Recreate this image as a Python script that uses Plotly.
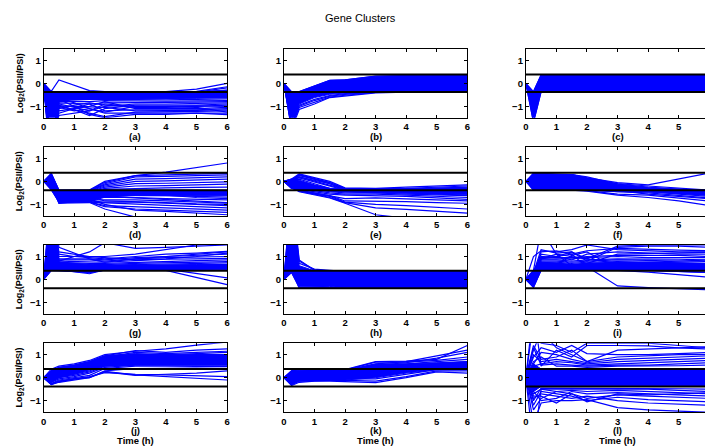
import plotly.graph_objects as go

# Canvas size in pixels
W, H = 708, 446

# Sampling times (hours) shared by all gene profiles
TIME_H = [0, 0.25, 0.5, 1, 1.5, 2, 3, 4, 5, 6]

# Fold-change cut-off drawn as the two black guide lines
THRESHOLD = 0.38

PANEL_LABELS = ["(a)", "(b)", "(c)", "(d)", "(e)", "(f)",
                "(g)", "(h)", "(i)", "(j)", "(k)", "(l)"]
X_TICKS = [0, 1, 2, 3, 4, 5, 6]
Y_TICKS = [-1, 0, 1]
Y_TICK_TEXT = ["\u22121", "0", "1"]

# ---- Cluster (a) ----
CLUSTER_A = [
    [0, -0.35, 0.15, -0.1, -0.32, -0.36, -0.38, -0.36, -0.25, 0.0],
    [0, -3.0, -0.45, -0.42, -0.40, -0.40, -0.42, -0.42, -0.35, -0.15],
    [0, -3.5, -0.5, -0.48, -0.45, -0.45, -0.45, -0.45, -0.40, -0.30],
    [0, -3.0, -0.55, -0.52, -0.5, -0.5, -0.5, -0.5, -0.45, -0.40],
    [0, -4.0, -0.6, -0.58, -0.55, -0.55, -0.55, -0.55, -0.5, -0.48],
    [0, -3.2, -0.65, -0.62, -0.6, -0.6, -0.6, -0.6, -0.58, -0.55],
    [0, -3.6, -0.7, -0.68, -0.65, -0.65, -0.65, -0.65, -0.62, -0.62],
    [0, -3.0, -0.75, -0.72, -0.7, -0.7, -0.72, -0.72, -0.7, -0.68],
    [0, -2.8, -0.8, -0.8, -0.8, -0.75, -0.78, -0.78, -0.76, -0.75],
    [0, -3.4, -0.85, -0.88, -0.9, -0.85, -0.85, -0.85, -0.82, -0.8],
    [0, -3.0, -0.9, -1.05, -1.2, -1.0, -0.9, -0.9, -0.88, -0.85],
    [0, -2.6, -0.95, -1.15, -1.4, -1.1, -0.95, -0.95, -0.95, -0.9],
    [0, -3.2, -1.1, -0.95, -0.85, -0.95, -1.05, -1.05, -1.0, -0.95],
    [0, -2.8, -1.2, -1.1, -1.0, -0.8, -1.1, -1.1, -1.1, -1.05],
    [0, -3.0, -1.3, -1.1, -0.9, -1.2, -1.15, -1.15, -1.15, -1.1],
    [0, -2.5, -1.0, -1.15, -1.3, -1.45, -1.25, -1.25, -1.22, -1.2],
    [0, -3.8, -0.6, -0.85, -1.1, -1.3, -1.3, -1.3, -1.28, -1.3],
    [0, -2.4, -1.4, -1.3, -1.2, -0.9, -1.0, -1.0, -0.98, -1.0],
    [0, -3.0, -0.7, -1.0, -1.35, -1.5, -1.35, -1.35, -1.3, -1.36],
    [0, -0.4, -0.4, -0.4, -0.4, -0.4, -0.4, -0.4, -0.38, -0.2],
    [0, -2.9, -0.98, -1.0, -1.05, -1.05, -1.2, -1.2, -1.18, -1.15],
    [0, -3.3, -1.05, -1.2, -1.1, -1.25, -1.0, -1.02, -1.05, -1.25],
]
CORE_A_LO = [0, -3.0, -0.72, -0.7, -0.7, -0.68, -0.68, -0.68, -0.65, -0.62]
CORE_A_HI = [0, -0.35, -0.38, -0.38, -0.38, -0.38, -0.38, -0.38, -0.36, -0.3]

# ---- Cluster (b) ----
CLUSTER_B = [
    [0, -2.0, -1.14, -0.9, -0.62, -0.55, -0.42, -0.38, -0.34, -0.3],
    [0, -1.9, -1.05, -0.82, -0.6, -0.52, -0.4, -0.36, -0.32, -0.3],
    [0, -1.8, -1.0, -0.75, -0.56, -0.48, -0.38, -0.34, -0.31, -0.29],
    [0, -1.6, -0.95, -0.7, -0.53, -0.45, -0.37, -0.33, -0.3, -0.28],
    [0, -0.36, -0.36, -0.1, 0.13, 0.15, 0.31, 0.34, 0.36, 0.38],
    [0, -0.8, -0.5, -0.3, -0.1, -0.05, 0.1, 0.15, 0.2, 0.22],
]
CORE_B_LO = [0, -2.0, -0.9, -0.62, -0.48, -0.42, -0.36, -0.33, -0.3, -0.28]
CORE_B_HI = [0, -0.36, -0.36, -0.1, 0.13, 0.15, 0.31, 0.34, 0.36, 0.38]

# ---- Cluster (c) ----
CLUSTER_C = [
    [0, -0.36, 0.37, 0.35, 0.33, 0.32, 0.3, 0.3, 0.3, 0.3],
    [0, -1.7, -0.37, -0.35, -0.35, -0.34, -0.34, -0.33, -0.33, -0.33],
    [0, -0.8, 0.1, 0.15, 0.2, 0.2, 0.15, 0.15, 0.1, 0.1],
    [0, -1.2, -0.2, -0.1, 0.0, 0.05, 0.0, -0.05, -0.1, -0.1],
]
CORE_C_LO = [0, -1.7, -0.37, -0.37, -0.37, -0.37, -0.37, -0.37, -0.37, -0.37]
CORE_C_HI = [0, -0.36, 0.37, 0.37, 0.37, 0.37, 0.37, 0.37, 0.37, 0.37]

# ---- Cluster (d) ----
CLUSTER_D = [
    [0, 0.35, -0.38, -0.38, -0.38, 0.0, 0.25, 0.4, 0.6, 0.8],
    [0, 0.3, -0.4, -0.39, -0.38, -0.05, 0.25, 0.28, 0.3, 0.35],
    [0, 0.2, -0.45, -0.42, -0.4, -0.1, 0.2, 0.22, 0.25, 0.28],
    [0, 0.1, -0.5, -0.45, -0.4, -0.15, 0.1, 0.12, 0.15, 0.2],
    [0, 0.0, -0.55, -0.48, -0.42, -0.2, 0.0, 0.02, 0.05, 0.1],
    [0, -0.1, -0.6, -0.52, -0.45, -0.25, -0.1, -0.08, -0.05, -0.02],
    [0, -0.2, -0.65, -0.58, -0.5, -0.3, -0.2, -0.18, -0.15, -0.12],
    [0, -0.3, -0.7, -0.62, -0.55, -0.35, -0.3, -0.28, -0.26, -0.25],
    [0, 0.25, -0.75, -0.68, -0.6, -0.45, -0.4, -0.4, -0.4, -0.4],
    [0, 0.15, -0.8, -0.72, -0.65, -0.5, -0.5, -0.52, -0.55, -0.55],
    [0, 0.05, -0.85, -0.78, -0.7, -0.6, -0.6, -0.62, -0.65, -0.68],
    [0, -0.05, -0.9, -0.82, -0.75, -0.7, -0.7, -0.75, -0.78, -0.8],
    [0, -0.15, -0.95, -0.88, -0.8, -0.8, -0.8, -0.85, -0.9, -0.95],
    [0, -0.25, -0.9, -0.88, -0.85, -0.9, -0.9, -0.95, -1.0, -1.05],
    [0, -0.35, -0.85, -0.88, -0.9, -0.95, -1.0, -1.05, -1.1, -1.15],
    [0, 0.3, -0.8, -0.85, -0.9, -1.05, -1.1, -1.15, -1.2, -1.25],
    [0, 0.2, -0.9, -0.9, -0.9, -1.1, -1.2, -1.25, -1.3, -1.35],
    [0, 0.1, -0.95, -0.94, -0.92, -1.2, -1.55, -1.6, -1.6, -1.6],
    [0, 0.0, -0.7, -0.75, -0.8, -1.0, -1.25, -1.3, -1.38, -1.45],
    [0, -0.1, -0.5, -0.55, -0.6, -0.55, -0.55, -0.6, -0.7, -0.75],
    [0, 0.05, -0.6, -0.62, -0.65, -0.85, -0.88, -0.92, -0.98, -1.0],
    [0, -0.05, -0.75, -0.78, -0.8, -0.65, -0.72, -0.8, -0.88, -0.92],
]
CORE_D_LO = [0, -0.38, -0.92, -0.9, -0.9, -0.68, -0.62, -0.62, -0.62, -0.62]
CORE_D_HI = [0, 0.35, -0.38, -0.38, -0.38, -0.38, -0.38, -0.38, -0.38, -0.38]

# ---- Cluster (e) ----
CLUSTER_E = [
    [0, 0.1, 0.33, 0.15, 0.0, -0.28, -0.3, -0.25, -0.2, -0.15],
    [0, 0.05, 0.3, 0.12, -0.05, -0.3, -0.32, -0.3, -0.25, -0.2],
    [0, 0.0, 0.28, 0.1, -0.1, -0.32, -0.35, -0.33, -0.3, -0.25],
    [0, -0.05, 0.2, 0.02, -0.15, -0.35, -0.38, -0.36, -0.33, -0.3],
    [0, 0.1, 0.15, -0.02, -0.2, -0.38, -0.4, -0.4, -0.38, -0.35],
    [0, 0.05, 0.1, -0.1, -0.3, -0.4, -0.42, -0.42, -0.42, -0.42],
    [0, 0.0, 0.0, -0.18, -0.35, -0.42, -0.45, -0.45, -0.45, -0.48],
    [0, -0.1, -0.1, -0.25, -0.4, -0.45, -0.48, -0.5, -0.52, -0.55],
    [0, -0.2, -0.2, -0.32, -0.45, -0.5, -0.5, -0.55, -0.6, -0.62],
    [0, -0.3, -0.3, -0.4, -0.5, -0.55, -0.55, -0.6, -0.65, -0.7],
    [0, -0.15, -0.35, -0.45, -0.55, -0.6, -0.62, -0.65, -0.72, -0.78],
    [0, -0.25, -0.38, -0.5, -0.6, -0.75, -0.72, -0.75, -0.8, -0.85],
    [0, -0.3, -0.4, -0.5, -0.62, -0.85, -0.85, -0.88, -0.92, -0.95],
    [0, -0.2, -0.42, -0.55, -0.65, -0.9, -1.0, -1.05, -1.12, -1.2],
    [0, -0.3, -0.4, -0.55, -0.7, -0.92, -1.15, -1.22, -1.3, -1.38],
    [0, -0.25, -0.45, -0.6, -0.72, -0.95, -1.45, -1.6, -1.6, -1.6],
    [0, 0.05, 0.25, 0.1, -0.05, -0.35, -0.4, -0.42, -0.45, -0.5],
    [0, 0.0, 0.2, 0.05, -0.1, -0.38, -0.45, -0.5, -0.55, -0.6],
]
CORE_E_LO = [0, -0.3, -0.35, -0.4, -0.45, -0.45, -0.5, -0.5, -0.52, -0.55]
CORE_E_HI = [0, 0.1, 0.05, -0.15, -0.3, -0.32, -0.33, -0.32, -0.3, -0.28]

# ---- Cluster (f) ----
CLUSTER_F = [
    [0, 0.35, 0.3, 0.3, 0.3, 0.15, -0.05, -0.15, 0.1, 0.36],
    [0, 0.3, 0.3, 0.29, 0.28, 0.12, -0.1, -0.2, -0.3, -0.38],
    [0, 0.25, 0.25, 0.25, 0.25, 0.1, -0.15, -0.28, -0.35, -0.4],
    [0, 0.2, 0.2, 0.2, 0.2, 0.05, -0.2, -0.3, -0.4, -0.45],
    [0, 0.1, 0.15, 0.12, 0.1, 0.0, -0.25, -0.35, -0.42, -0.5],
    [0, 0.0, 0.1, 0.05, 0.0, -0.1, -0.3, -0.38, -0.45, -0.55],
    [0, -0.1, 0.0, -0.05, -0.1, -0.15, -0.35, -0.42, -0.5, -0.6],
    [0, -0.2, -0.1, -0.15, -0.2, -0.25, -0.4, -0.45, -0.55, -0.65],
    [0, -0.3, -0.2, -0.25, -0.3, -0.35, -0.45, -0.5, -0.6, -0.72],
    [0, -0.35, -0.3, -0.32, -0.35, -0.4, -0.55, -0.6, -0.72, -0.85],
    [0, -0.38, -0.35, -0.36, -0.38, -0.42, -0.6, -0.7, -0.85, -1.05],
    [0, 0.15, 0.25, 0.22, 0.2, 0.1, -0.35, -0.45, -0.52, -0.6],
    [0, 0.3, 0.35, 0.32, 0.3, 0.2, -0.12, -0.25, -0.35, -0.42],
    [0, -0.25, 0.05, 0.1, 0.15, 0.05, -0.4, -0.55, -0.65, -0.75],
]
CORE_F_LO = [0, -0.38, -0.37, -0.37, -0.37, -0.38, -0.45, -0.45, -0.5, -0.6]
CORE_F_HI = [0, 0.37, 0.35, 0.3, 0.3, 0.15, -0.15, -0.3, -0.38, -0.38]

# ---- Cluster (g) ----
CLUSTER_G = [
    [0, 4.0, 0.8, 1.0, 1.2, 1.6, 1.35, 1.4, 1.45, 1.5],
    [0, 3.5, 1.0, 1.0, 1.0, 1.0, 1.1, 1.3, 1.5, 1.6],
    [0, 3.0, 1.1, 1.0, 0.95, 0.9, 1.0, 1.1, 1.15, 1.22],
    [0, 2.5, 0.9, 0.9, 0.9, 0.85, 0.95, 1.0, 1.05, 1.1],
    [0, 2.2, 0.85, 0.85, 0.85, 0.8, 0.9, 0.95, 0.98, 1.0],
    [0, 1.9, 0.8, 0.78, 0.75, 0.75, 0.82, 0.88, 0.9, 0.92],
    [0, 1.6, 0.75, 0.72, 0.7, 0.7, 0.75, 0.8, 0.82, 0.85],
    [0, 1.4, 0.7, 0.68, 0.65, 0.65, 0.7, 0.72, 0.75, 0.78],
    [0, 1.2, 0.65, 0.62, 0.6, 0.62, 0.65, 0.67, 0.7, 0.72],
    [0, 1.0, 0.6, 0.58, 0.55, 0.58, 0.6, 0.62, 0.64, 0.65],
    [0, 0.8, 0.55, 0.52, 0.5, 0.55, 0.55, 0.57, 0.58, 0.6],
    [0, 0.7, 0.5, 0.45, 0.4, 0.5, 0.5, 0.52, 0.53, 0.55],
    [0, 0.6, 0.45, 0.38, 0.3, 0.45, 0.48, 0.48, 0.5, 0.5],
    [0, 0.5, 0.42, 0.33, 0.25, 0.42, 0.45, 0.45, 0.45, 0.45],
    [0, 0.9, 0.6, 0.55, 0.5, 0.55, 0.6, 0.45, 0.25, 0.07],
    [0, 1.1, 0.7, 0.62, 0.55, 0.6, 0.65, 0.4, 0.1, -0.22],
    [0, 3.0, 1.2, 1.1, 1.0, 0.95, 0.85, 0.9, 1.0, 1.15],
    [0, 3.8, 1.4, 1.15, 0.9, 0.75, 0.9, 1.0, 1.1, 1.2],
    [0, 0.4, 0.4, 0.35, 0.3, 0.42, 0.42, 0.43, 0.45, 0.48],
]
CORE_G_LO = [0, 0.38, 0.38, 0.35, 0.3, 0.4, 0.4, 0.42, 0.45, 0.45]
CORE_G_HI = [0, 3.0, 0.75, 0.7, 0.62, 0.6, 0.62, 0.65, 0.65, 0.65]

# ---- Cluster (h) ----
CLUSTER_H = [
    [0, 4.0, 0.85, 0.4, 0.37, 0.37, 0.37, 0.37, 0.37, 0.37],
    [0, 3.5, 0.8, 0.42, 0.38, 0.36, 0.36, 0.36, 0.36, 0.36],
    [0, 3.0, 0.7, 0.45, 0.4, 0.35, 0.35, 0.35, 0.35, 0.35],
    [0, 0.3, -0.35, -0.35, -0.34, -0.38, -0.37, -0.37, -0.36, -0.36],
    [0, 0.5, -0.38, -0.38, -0.36, -0.3, -0.35, -0.35, -0.35, -0.35],
]
CORE_H_LO = [0, 0.3, -0.32, -0.3, -0.3, -0.36, -0.37, -0.37, -0.37, -0.37]
CORE_H_HI = [0, 4.0, 0.6, 0.38, 0.37, 0.37, 0.37, 0.37, 0.37, 0.37]

# ---- Cluster (i) ----
CLUSTER_I = [
    [0, 0.4, 2.2, 1.1, 1.0, 0.9, 1.45, 1.5, 1.5, 1.5],
    [0, 1.0, 1.25, 1.2, 1.3, 1.5, 1.3, 1.25, 1.2, 1.2],
    [0, 0.3, 1.1, 1.0, 0.85, 1.1, 1.2, 1.15, 1.1, 1.1],
    [0, 0.2, 1.0, 0.95, 0.95, 1.0, 1.05, 1.05, 1.05, 1.0],
    [0, 0.1, 0.9, 0.9, 0.9, 0.95, 1.0, 0.95, 0.95, 0.95],
    [0, 0.0, 0.85, 0.85, 0.8, 0.85, 0.9, 0.9, 0.88, 0.85],
    [0, -0.1, 0.8, 0.8, 0.75, 0.8, 0.85, 0.82, 0.8, 0.78],
    [0, -0.2, 0.75, 0.75, 0.7, 0.75, 0.78, 0.75, 0.72, 0.7],
    [0, -0.3, 0.7, 0.7, 0.65, 0.7, 0.72, 0.7, 0.68, 0.65],
    [0, 0.35, 0.65, 0.65, 0.6, 0.65, 0.65, 0.62, 0.6, 0.6],
    [0, 0.25, 0.6, 0.6, 0.55, 0.6, 0.6, 0.58, 0.55, 0.52],
    [0, 0.15, 0.55, 0.55, 0.5, 0.55, 0.55, 0.5, 0.48, 0.45],
    [0, 0.05, 0.5, 0.5, 0.45, 0.5, 0.5, 0.45, 0.42, 0.4],
    [0, -0.15, 0.45, 0.45, 0.42, 0.45, 0.45, 0.4, 0.35, 0.3],
    [0, -0.25, 0.42, 0.42, 0.4, 0.42, 0.4, 0.32, 0.2, 0.1],
    [0, 0.4, 0.9, 1.0, 1.1, 0.55, -0.28, -0.35, -0.4, -0.45],
    [0, -0.35, 0.4, 0.6, 1.05, 1.2, 0.45, 0.4, 0.35, 0.3],
    [0, 0.3, 1.3, 1.15, 1.2, 0.8, 1.4, 1.45, 1.45, 1.4],
    [0, 0.2, 0.95, 1.0, 1.2, 0.9, 0.7, 0.75, 0.8, 0.85],
    [0, 0.1, 1.2, 1.25, 1.1, 1.25, 1.35, 1.3, 1.28, 1.25],
    [0, 0.0, 0.9, 1.1, 0.6, 0.7, 1.1, 1.12, 1.15, 1.18],
]
CORE_I_LO = [0, -0.35, 0.4, 0.4, 0.4, 0.4, 0.4, 0.4, 0.4, 0.38]
CORE_I_HI = [0, 0.4, 0.75, 0.72, 0.65, 0.7, 0.75, 0.75, 0.72, 0.7]

# ---- Cluster (j) ----
CLUSTER_J = [
    [0, 0.37, 0.5, 0.6, 0.75, 1.0, 1.15, 1.25, 1.42, 1.55],
    [0, 0.3, 0.45, 0.55, 0.7, 0.95, 1.18, 1.1, 1.2, 1.25],
    [0, 0.25, 0.4, 0.5, 0.65, 0.9, 1.1, 1.05, 1.1, 1.15],
    [0, 0.2, 0.35, 0.45, 0.6, 0.85, 1.0, 1.0, 1.05, 1.1],
    [0, 0.15, 0.3, 0.4, 0.55, 0.8, 0.95, 0.95, 1.0, 1.0],
    [0, 0.1, 0.25, 0.35, 0.5, 0.75, 0.9, 0.9, 0.92, 0.95],
    [0, 0.05, 0.2, 0.3, 0.45, 0.7, 0.85, 0.85, 0.88, 0.9],
    [0, 0.0, 0.15, 0.25, 0.4, 0.65, 0.8, 0.8, 0.82, 0.82],
    [0, -0.05, 0.1, 0.2, 0.35, 0.6, 0.72, 0.72, 0.75, 0.75],
    [0, -0.1, 0.05, 0.15, 0.3, 0.55, 0.65, 0.65, 0.68, 0.7],
    [0, -0.15, 0.0, 0.1, 0.25, 0.5, 0.6, 0.6, 0.62, 0.62],
    [0, -0.2, -0.05, 0.05, 0.2, 0.45, 0.55, 0.55, 0.55, 0.55],
    [0, -0.25, -0.1, 0.0, 0.1, 0.4, 0.5, 0.5, 0.5, 0.48],
    [0, -0.3, -0.15, -0.05, 0.0, 0.3, 0.4, 0.42, 0.42, 0.4],
    [0, -0.3, -0.2, -0.1, 0.0, 0.25, 0.1, 0.15, 0.2, 0.3],
    [0, -0.28, -0.18, -0.05, 0.02, 0.28, 0.12, 0.05, 0.0, -0.1],
    [0, -0.25, -0.15, -0.05, 0.05, 0.22, 0.15, 0.12, 0.08, 0.05],
]
CORE_J_LO = [0, -0.2, 0.0, 0.15, 0.35, 0.5, 0.55, 0.55, 0.55, 0.55]
CORE_J_HI = [0, 0.3, 0.45, 0.55, 0.7, 0.95, 1.05, 1.0, 1.0, 1.0]

# ---- Cluster (k) ----
CLUSTER_K = [
    [0, 0.3, 0.3, 0.3, 0.32, 0.35, 0.7, 0.72, 0.8, 1.4],
    [0, 0.25, 0.28, 0.28, 0.3, 0.32, 0.6, 0.7, 0.95, 1.2],
    [0, 0.2, 0.25, 0.25, 0.27, 0.3, 0.55, 0.65, 0.85, 1.1],
    [0, 0.15, 0.2, 0.22, 0.25, 0.28, 0.5, 0.6, 0.7, 0.8],
    [0, 0.1, 0.15, 0.18, 0.2, 0.25, 0.45, 0.55, 0.62, 0.7],
    [0, 0.05, 0.1, 0.15, 0.18, 0.2, 0.4, 0.5, 0.58, 0.65],
    [0, 0.0, 0.05, 0.1, 0.12, 0.15, 0.35, 0.45, 0.52, 0.6],
    [0, -0.05, 0.0, 0.05, 0.08, 0.1, 0.3, 0.4, 0.48, 0.55],
    [0, -0.1, -0.05, 0.0, 0.02, 0.05, 0.2, 0.35, 0.45, 0.5],
    [0, -0.15, -0.1, -0.05, -0.02, 0.0, 0.1, 0.3, 0.4, 0.45],
    [0, -0.2, -0.12, -0.1, -0.08, -0.05, -0.05, 0.15, 0.35, 0.4],
    [0, -0.3, -0.15, -0.12, -0.12, -0.12, -0.15, 0.05, 0.3, 0.3],
    [0, -0.34, -0.2, -0.15, -0.15, -0.17, -0.21, 0.0, 0.25, 0.2],
    [0, 0.3, 0.35, 0.3, 0.3, 0.33, 0.68, 0.68, 0.75, 0.9],
]
CORE_K_LO = [0, -0.3, -0.15, -0.12, -0.12, -0.1, 0.0, 0.2, 0.35, 0.35]
CORE_K_HI = [0, 0.3, 0.3, 0.3, 0.3, 0.3, 0.6, 0.6, 0.65, 0.7]

# ---- Cluster (l) ----
CLUSTER_L = [
    [0, 3.0, 0.5, 1.2, 0.9, 1.4, 1.4, 1.38, 1.3, 1.25],
    [0, 1.2, 2.0, 1.3, 1.0, 0.7, 1.2, 1.25, 1.3, 1.35],
    [0, 0.9, 1.3, 1.1, 1.4, 1.05, 1.0, 1.0, 1.05, 1.1],
    [0, 1.4, 0.8, 0.9, 1.2, 0.7, 0.9, 0.95, 1.0, 1.0],
    [0, 0.6, 1.1, 1.0, 0.8, 0.65, 0.8, 0.85, 0.9, 0.95],
    [0, 1.0, 0.7, 0.8, 0.7, 0.6, 0.7, 0.75, 0.8, 0.85],
    [0, 0.5, 0.6, 0.7, 0.65, 0.55, 0.6, 0.65, 0.7, 0.75],
    [0, 1.3, 0.55, 0.6, 0.55, 0.5, 0.55, 0.55, 0.6, 0.65],
    [0, 0.7, 0.9, 0.5, 0.5, 0.45, 0.5, 0.5, 0.52, 0.55],
    [0, 2.5, 1.5, 1.4, 1.1, 1.5, 1.5, 1.5, 1.4, 1.3],
    [0, -3.0, -0.5, -0.6, -0.7, -0.9, -0.75, -0.8, -0.85, -0.9],
    [0, -1.2, -0.6, -0.7, -0.8, -1.0, -0.85, -0.95, -1.0, -1.05],
    [0, -0.9, -0.7, -0.8, -0.9, -0.8, -1.0, -1.1, -1.15, -1.2],
    [0, -1.4, -0.9, -0.6, -0.55, -0.6, -0.55, -0.6, -0.65, -0.7],
    [0, -0.7, -0.5, -0.5, -0.5, -0.5, -0.5, -0.5, -0.55, -0.6],
    [0, -1.0, -0.45, -0.45, -0.45, -0.45, -0.45, -0.45, -0.48, -0.5],
    [0, -0.6, -1.0, -0.9, -0.6, -0.7, -0.65, -0.7, -0.75, -0.8],
    [0, -2.0, -1.1, -1.0, -1.0, -0.95, -1.3, -1.4, -1.45, -1.5],
    [0, -0.8, -0.8, -1.1, -0.7, -1.05, -0.7, -0.75, -0.7, -0.65],
]
CORE_L_LO = [0, -0.6, -0.38, -0.38, -0.38, -0.38, -0.38, -0.38, -0.38, -0.38]
CORE_L_HI = [0, 0.6, 0.38, 0.38, 0.38, 0.38, 0.38, 0.38, 0.38, 0.38]

PANELS = [
    (CLUSTER_A, CORE_A_LO, CORE_A_HI), (CLUSTER_B, CORE_B_LO, CORE_B_HI),
    (CLUSTER_C, CORE_C_LO, CORE_C_HI), (CLUSTER_D, CORE_D_LO, CORE_D_HI),
    (CLUSTER_E, CORE_E_LO, CORE_E_HI), (CLUSTER_F, CORE_F_LO, CORE_F_HI),
    (CLUSTER_G, CORE_G_LO, CORE_G_HI), (CLUSTER_H, CORE_H_LO, CORE_H_HI),
    (CLUSTER_I, CORE_I_LO, CORE_I_HI), (CLUSTER_J, CORE_J_LO, CORE_J_HI),
    (CLUSTER_K, CORE_K_LO, CORE_K_HI), (CLUSTER_L, CORE_L_LO, CORE_L_HI),
]

# ---- Layout geometry (pixels) ----
COL_PX = [(41.0, 226.0), (283.3, 468.3), (527.3, 712.3)]   # full 0..6 axis span
ROW_TOP_PX = [48.8, 146.9, 245.0, 343.2]
ROW_H_PX = 69.0

BLUE = "#0000ff"
FONT = "Liberation Sans, Arial, Helvetica, sans-serif"
tick_font = dict(family=FONT, size=9.5, color="black", weight="bold")
label_font = dict(family=FONT, size=9.5, color="black", weight="bold")

fig = go.Figure()
layout = dict(
    width=W, height=H,
    margin=dict(l=0, r=0, t=0, b=0),
    paper_bgcolor="white", plot_bgcolor="white",
    showlegend=False,
    annotations=[],
)

for i, (profiles, lo, hi) in enumerate(PANELS):
    r, c = divmod(i, 3)
    n = i + 1
    xa = "x" if n == 1 else f"x{n}"
    ya = "y" if n == 1 else f"y{n}"

    # dense core of the cluster
    fig.add_trace(go.Scatter(
        x=TIME_H + TIME_H[::-1], y=hi + lo[::-1],
        fill="toself", fillcolor=BLUE, mode="lines",
        line=dict(color=BLUE, width=1),
        xaxis=xa, yaxis=ya, hoverinfo="skip"))

    # individual gene profiles
    xs, ys = [], []
    for prof in profiles:
        xs += TIME_H + [None]
        ys += prof + [None]
    fig.add_trace(go.Scatter(
        x=xs, y=ys, mode="lines", line=dict(color=BLUE, width=1.2),
        xaxis=xa, yaxis=ya, hoverinfo="skip"))

    # fold-change cut-off lines
    fig.add_trace(go.Scatter(
        x=[0, 6, None, 0, 6],
        y=[THRESHOLD, THRESHOLD, None, -THRESHOLD, -THRESHOLD],
        mode="lines", line=dict(color="black", width=2),
        xaxis=xa, yaxis=ya, hoverinfo="skip"))

    x0, x1 = COL_PX[c]
    x1_vis = min(x1, W)
    x_max = 6 * (x1_vis - x0) / (x1 - x0)
    top = ROW_TOP_PX[r]
    bot = top + ROW_H_PX

    key_x = "xaxis" if n == 1 else f"xaxis{n}"
    key_y = "yaxis" if n == 1 else f"yaxis{n}"
    layout[key_x] = dict(
        domain=[x0 / W, x1_vis / W], range=[0, x_max], anchor=ya,
        tickmode="array", tickvals=X_TICKS, ticks="inside", ticklen=3,
        tickcolor="black", showline=True, linecolor="black", linewidth=1,
        mirror="ticks", showgrid=False, zeroline=False, tickfont=tick_font,
        fixedrange=True)
    layout[key_y] = dict(
        domain=[1 - bot / H, 1 - top / H], range=[-1.5, 1.5], anchor=xa,
        tickmode="array", tickvals=Y_TICKS, ticktext=Y_TICK_TEXT,
        ticks="inside", ticklen=3, tickcolor="black",
        showline=True, linecolor="black", linewidth=1,
        mirror="ticks" if x1 <= W else False,
        showgrid=False, zeroline=False, tickfont=tick_font, fixedrange=True)

    # panel letter under the axis
    layout["annotations"].append(dict(
        text=PANEL_LABELS[i], xref="paper", yref="paper",
        x=((x0 + x1) / 2) / W, y=1 - (bot + 18.5) / H,
        showarrow=False, xanchor="center", yanchor="middle",
        font=label_font))

    if r == 3:
        layout["annotations"].append(dict(
            text="Time (h)", xref="paper", yref="paper",
            x=((x0 + x1) / 2) / W, y=1 - (bot + 28.0) / H,
            showarrow=False, xanchor="center", yanchor="middle",
            font=label_font))

    if c == 0:
        layout["annotations"].append(dict(
            text="Log<sub>2</sub>(PSII/PSI)", xref="paper", yref="paper",
            x=17 / W, y=1 - ((top + bot) / 2) / H, textangle=-90,
            showarrow=False, xanchor="center", yanchor="middle",
            font=dict(family=FONT, size=9, color="black", weight="bold")))

layout["annotations"].append(dict(
    text="Gene Clusters", xref="paper", yref="paper",
    x=361 / W, y=1 - 18 / H, showarrow=False,
    xanchor="center", yanchor="middle",
    font=dict(family=FONT, size=11, color="black")))

fig.update_layout(**layout)
fig.write_html("out.html")
